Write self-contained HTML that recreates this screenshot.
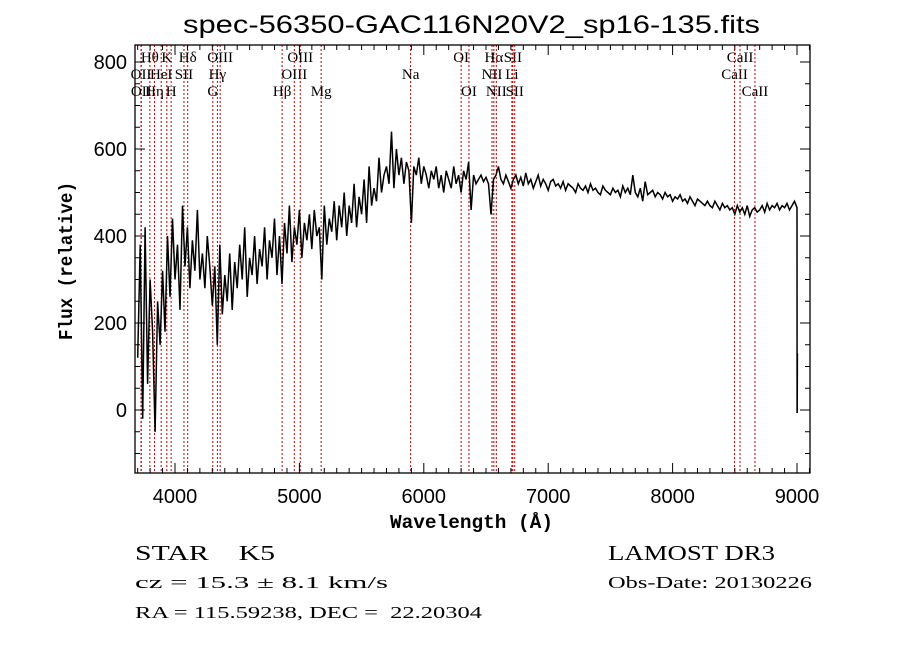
<!DOCTYPE html>
<html><head><meta charset="utf-8"><title>spec-56350-GAC116N20V2_sp16-135</title>
<style>html,body{margin:0;padding:0;background:#fff;width:900px;height:649px;overflow:hidden} text{white-space:pre}</style></head>
<body>
<svg id="chart" width="900" height="649" viewBox="0 0 900 649" xmlns="http://www.w3.org/2000/svg" font-family="Liberation Sans, sans-serif" xml:space="preserve">
<rect width="900" height="649" fill="#fff"/>
<text x="183" y="33" font-size="25" textLength="577" lengthAdjust="spacingAndGlyphs">spec-56350-GAC116N20V2_sp16-135.fits</text>
<g id="lines"></g>
<g id="spec"></g>
<g id="axes"></g>
<text x="390" y="528" font-family="Liberation Mono, monospace" font-weight="bold" font-size="19" textLength="163" lengthAdjust="spacingAndGlyphs">Wavelength (Å)</text>
<text transform="translate(72,340) rotate(-90)" font-family="Liberation Mono, monospace" font-weight="bold" font-size="19" textLength="158" lengthAdjust="spacingAndGlyphs">Flux (relative)</text>
<text x="135" y="560" font-family="Liberation Serif, serif" font-size="21" textLength="140" lengthAdjust="spacingAndGlyphs">STAR    K5</text>
<text x="135" y="588" font-family="Liberation Serif, serif" font-size="17" textLength="253" lengthAdjust="spacingAndGlyphs">cz = 15.3 ± 8.1 km/s</text>
<text x="135" y="618" font-family="Liberation Serif, serif" font-size="17" textLength="347" lengthAdjust="spacingAndGlyphs">RA = 115.59238, DEC =  22.20304</text>
<text x="608" y="560" font-family="Liberation Serif, serif" font-size="21" textLength="167" lengthAdjust="spacingAndGlyphs">LAMOST DR3</text>
<text x="608" y="588" font-family="Liberation Serif, serif" font-size="17" textLength="204" lengthAdjust="spacingAndGlyphs">Obs-Date: 20130226</text>
</svg>
<script>
const waveStart = 3700;
const waveStep = 20;
const flux = [
120,380,-20,420,60,300,180,-50,250,150,
320,180,400,260,440,300,380,230,470,330,
420,280,390,320,460,300,360,280,400,330,
240,330,150,380,220,310,250,360,230,340,
280,380,300,420,260,350,310,400,290,370,
330,420,300,390,350,440,310,400,290,430,
360,470,340,420,380,460,350,430,390,450,
370,460,400,420,300,470,380,440,410,480,
390,470,420,500,400,470,430,520,420,490,
450,530,430,560,470,510,480,580,500,540,
560,520,640,510,600,540,580,520,570,550,
430,560,540,580,520,560,540,510,550,530,
560,510,540,500,550,530,510,560,520,540,
500,550,530,570,460,540,520,530,540,525,
535,520,450,530,540,560,530,520,540,525,
510,530,540,520,535,515,545,520,530,510,
525,540,515,530,520,505,525,530,515,520,
510,525,505,520,515,510,500,520,510,505,
515,500,520,505,510,500,495,515,505,500,
495,510,500,505,490,515,500,510,495,540,
500,490,510,480,525,495,500,505,490,500,
495,485,500,490,495,480,490,485,495,480,
485,475,490,480,470,485,480,475,470,480,
470,465,480,470,460,475,465,470,460,465,
450,470,455,465,450,470,445,460,465,455,
460,470,455,475,460,470,465,475,460,470,
465,475,460,470,480,465];
const tailWaves = [9001, 9002, 9003];
const tailFlux = [-5, -5, 130];
const lineNames = ["OII","Hθ","Hη","HeI","K","H","SII","Hδ","G","Hγ","OIII","Hβ","OIII","OIII","Mg","Na","OI","OI","NII","Hα","NII","Li","SII","SII","CaII","CaII","CaII","OII"];
const lineWaves = [3727,3798,3835,3889,3934,3969,4072,4102,4304,4341,4363,4861,4959,5007,5175,5894,6300,6363,6548,6563,6583,6708,6716,6731,8498,8542,8662,3729];
const lineRows = [1,0,2,1,0,2,1,0,2,1,0,2,1,0,2,1,0,2,1,0,2,1,0,2,1,0,2,2];
const xTicks = [4000,5000,6000,7000,8000,9000];
const yTicks = [0,200,400,600,800];

const L=135,R=810,T=45,B=473;
const xs = w => 175 + (w-4000)*0.1244;
const ys = f => 410 - f*0.435;
const NS="http://www.w3.org/2000/svg";
function mk(tag, parent){const e=document.createElementNS(NS,tag);parent.appendChild(e);return e;}

const lg=document.getElementById('lines');
lineWaves.forEach((w,i)=>{
  const l=mk('line',lg);
  
  
  l.setAttribute('x1',xs(w));l.setAttribute('x2',xs(w));l.setAttribute('y1',T);l.setAttribute('y2',B);
  l.setAttribute('stroke','#c00000');l.setAttribute('stroke-width','1');l.setAttribute('stroke-dasharray','2,2');
  const t=mk('text',lg);
  
  
  t.setAttribute('x',xs(w));t.setAttribute('y',62+lineRows[i]*17);
  t.setAttribute('text-anchor','middle');t.setAttribute('font-size','15');
  t.setAttribute('font-family','Liberation Serif, serif');
  t.textContent=lineNames[i];
});

const sg=document.getElementById('spec');
let d='';
flux.forEach((f,i)=>{d+=(i?'L':'M')+xs(waveStart+i*waveStep).toFixed(1)+','+ys(f).toFixed(1);});
tailWaves.forEach((w,i)=>{d+='L'+xs(w).toFixed(1)+','+ys(tailFlux[i]).toFixed(1);});
const p=mk('path',sg);


p.setAttribute('d',d);p.setAttribute('fill','none');p.setAttribute('stroke','#000');p.setAttribute('stroke-width','1.5');

const ag=document.getElementById('axes');
const fr=mk('rect',ag);


fr.setAttribute('x',L);fr.setAttribute('y',T);fr.setAttribute('width',R-L);fr.setAttribute('height',B-T);
fr.setAttribute('fill','none');fr.setAttribute('stroke','#000');fr.setAttribute('stroke-width','1.3');
function tk(x1,y1,x2,y2){const l=mk('line',ag);
  
  
  l.setAttribute('x1',x1);l.setAttribute('y1',y1);l.setAttribute('x2',x2);l.setAttribute('y2',y2);l.setAttribute('stroke','#000');}
for(let w=3700;w<=9100;w+=100){const x=xs(w);if(x<L||x>R)continue;const len=(w%1000===0)?10:5;tk(x,B,x,B-len);tk(x,T,x,T+len);}
for(let f=-100;f<=800;f+=50){const y=ys(f);if(y<T||y>B)continue;const len=(f%200===0)?10:5;tk(L,y,L+len,y);tk(R,y,R-len,y);}
xTicks.forEach(v=>{const t=mk('text',ag);
  
  
  t.setAttribute('x',xs(v));t.setAttribute('y',503);t.setAttribute('text-anchor','middle');t.setAttribute('font-size','20');t.textContent=v;});
yTicks.forEach(v=>{const t=mk('text',ag);
  
  
  t.setAttribute('x',127);t.setAttribute('y',ys(v)+7);t.setAttribute('text-anchor','end');t.setAttribute('font-size','20');t.textContent=v;});
</script>
</body></html>
